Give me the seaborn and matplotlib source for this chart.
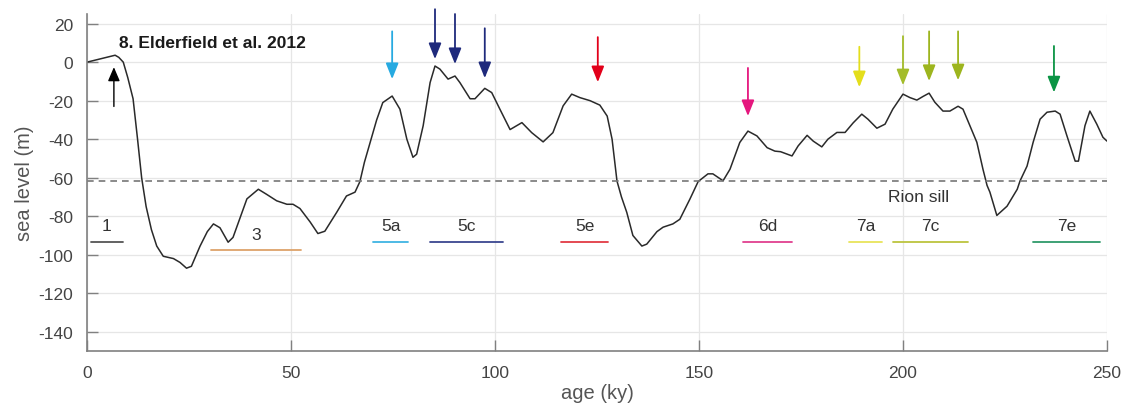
import matplotlib
matplotlib.use("Agg")
import matplotlib.pyplot as plt
import seaborn as sns
import pandas as pd

# sea level curve (Elderfield et al. 2012)
age = [0, 6.9, 7.8, 8.9, 10, 11.3, 12.4, 13.4, 14.5, 15.8, 17.1, 18.7, 21.2, 22.8, 24.4,
       25.6, 27.7, 29.5, 31, 32.6, 34.6, 35.8, 37.5, 39.2, 42, 44, 46.5, 49, 50.5, 52.2,
       54.7, 56.6, 58.3, 61.2, 63.6, 65.7, 66.9, 68, 69.4, 71, 72.5, 74.8, 76.7, 78.4,
       79.9, 80.8, 82.4, 84.1, 85.3, 86.5, 88.5, 90.2, 91.4, 93.9, 95.1, 97.5, 99.2,
       101.2, 103.7, 106.6, 109, 111.8, 114.2, 116.7, 118.8, 120.8, 123.3, 125.7, 127.5,
       128.7, 129.9, 131, 132.3, 133.8, 136, 137.2, 139.7, 141.2, 143.6, 145.3, 147.8,
       149.8, 152.2, 153.4, 155.9, 157.6, 160, 162, 164.2, 166.7, 168.6, 170, 172.8,
       174.3, 176.5, 178, 180.1, 181.6, 183.8, 185.8, 187.8, 189.9, 191.4, 193.6, 195.6,
       197.5, 200, 201.7, 203.4, 205, 206.4, 207.8, 209.8, 211.5, 213.5, 214.7, 216.4,
       218.1, 219.6, 220.6, 221.3, 223, 225.5, 228, 228.7, 230.4, 231.9, 233.6, 235.3,
       237.3, 238.5, 240.2, 242.2, 243, 244.6, 245.8, 247.5, 249, 250]
sea_level = [0, 3.6, 2.5, 0, -8, -19, -40, -60, -75, -87, -95.5, -100.8, -102, -104, -107,
             -106, -95.6, -88, -84, -86, -93.5, -91, -81, -71, -66, -68.6, -72, -73.8, -73.8,
             -76, -83, -89, -87.8, -78, -69.5, -67.5, -62, -52, -41.7, -30, -21, -17.6,
             -24.4, -40, -49.4, -47.8, -33, -10.6, -2, -3.6, -8.8, -7.2, -10.6, -19, -19,
             -13.6, -15.8, -24.4, -35, -31.4, -36.6, -41.4, -36.6, -22.7, -16.6, -18.4, -20,
             -22.3, -28, -40, -61.7, -70, -78, -90, -95.5, -94.5, -88, -85.7, -84, -81.6,
             -71, -62, -58, -58, -61.6, -55.6, -41.7, -35.8, -38.3, -44.4, -46.2, -46.5,
             -48.7, -43.5, -38, -41, -44, -40, -36.5, -36.5, -31.5, -27, -29.6, -34.3, -32.2,
             -24.4, -16.6, -18.4, -19.7, -17.7, -16.1, -20.8, -25.4, -25.4, -22.9, -24.4,
             -33, -41.6, -55.6, -64, -67.5, -79.6, -74.8, -66, -61.6, -54, -41.6, -29.6, -26,
             -25.4, -27, -38.4, -51.4, -51.4, -33, -25.4, -32.2, -39, -41]

rion_sill = -61.7

# marine isotope substages: name, start, end (ky)
stage_names = ["1", "3", "5a", "5c", "5e", "6d", "7a", "7c", "7e"]
stage_start = [0.9, 30.3, 70.2, 84.1, 116.2, 160.8, 186.8, 197.5, 231.9]
stage_end = [8.8, 52.4, 78.7, 102.0, 127.7, 172.8, 194.9, 216.0, 248.3]
stage_colors = ["#555555", "#DDA36A", "#3FB4E3", "#3A4690", "#E23A44", "#E0408F",
                "#E8E45A", "#BCC43E", "#2F9A6A"]

# highstand arrows: age, top, tip (m)
arrow_age = [74.8, 85.3, 90.2, 97.5, 125.2, 162.0, 189.3, 200.0, 206.4, 213.5, 237.0]
arrow_top = [16, 27.5, 25, 17.6, 13, -3, 8, 13.5, 16, 16, 8.4]
arrow_tip = [-8.8, 1.6, -1, -8.3, -10.4, -28, -13, -12, -9.8, -9.4, -15.7]
arrow_colors = ["#27AAE1", "#1F2A7C", "#1F2A7C", "#1F2A7C", "#E2001A", "#E5177E",
                "#E4DE1C", "#A3BC2A", "#9DB51E", "#9DB51E", "#0B9444"]

sns.set_theme(style="whitegrid")
plt.rcParams['font.family'] = ['Liberation Sans', 'DejaVu Sans']
plt.rcParams['axes.unicode_minus'] = False

fig = plt.figure(figsize=(11.25, 4.06), dpi=100)
ax = fig.add_axes([0.0773, 0.133, 0.9067, 0.830])

df = pd.DataFrame({'age': age, 'sea_level': sea_level})
sns.lineplot(data=df, x='age', y='sea_level', color='#2a2a2a', linewidth=1.1, ax=ax)

ax.axhline(rion_sill, color='#777777', linestyle=(0, (4, 3)), linewidth=1.2)
ax.text(203.7, -69.6, "Rion sill", ha='center', va='center', fontsize=12.5, color='#333333')

for name, s, e, c in zip(stage_names, stage_start, stage_end, stage_colors):
    line_y = -97.7 if name == "3" else -93.5
    lab_y = -89.5 if name == "3" else -85
    ax.plot([s, e], [line_y, line_y], color=c, linewidth=1.3)
    ax.text((s + e) / 2, lab_y, name, ha='center', va='center', fontsize=12.5, color='#333333')

for a, t, b, c in zip(arrow_age, arrow_top, arrow_tip, arrow_colors):
    ax.annotate("", xy=(a, b), xytext=(a, t),
                arrowprops=dict(arrowstyle="-|>,head_length=0.8,head_width=0.32",
                                color=c, lw=1.3, shrinkA=0, shrinkB=0),
                annotation_clip=False)

# black arrow pointing up at the Holocene
ax.annotate("", xy=(6.6, -2.6), xytext=(6.6, -23),
            arrowprops=dict(arrowstyle="-|>,head_length=0.7,head_width=0.3",
                            color='black', lw=1.0, shrinkA=0, shrinkB=0))

ax.text(7.8, 10.4, "8. Elderfield et al. 2012", fontsize=12.5, fontweight='bold',
        ha='left', va='center', color='#1a1a1a')

ax.set_xlim(0, 250)
ax.set_ylim(-150, 25)
ax.set_xticks([0, 50, 100, 150, 200, 250])
ax.set_yticks(list(range(-140, 21, 20)))
ax.set_xlabel("age (ky)", fontsize=14.5, color='#555555', labelpad=2)
ax.set_ylabel("sea level (m)", fontsize=14.5, color='#555555', labelpad=3)
ax.tick_params(axis='both', direction='in', length=8, width=1, color='#808080',
               labelsize=12.5, labelcolor='#444444', left=True, bottom=True)
ax.tick_params(axis='x', pad=10)
ax.tick_params(axis='y', pad=10)
ax.grid(True, color='#e6e6e6', linewidth=0.9)
for side in ['top', 'right']:
    ax.spines[side].set_visible(False)
for side in ['left', 'bottom']:
    ax.spines[side].set_color('#808080')
    ax.spines[side].set_linewidth(1.2)

fig.savefig("out.png", dpi=100)
